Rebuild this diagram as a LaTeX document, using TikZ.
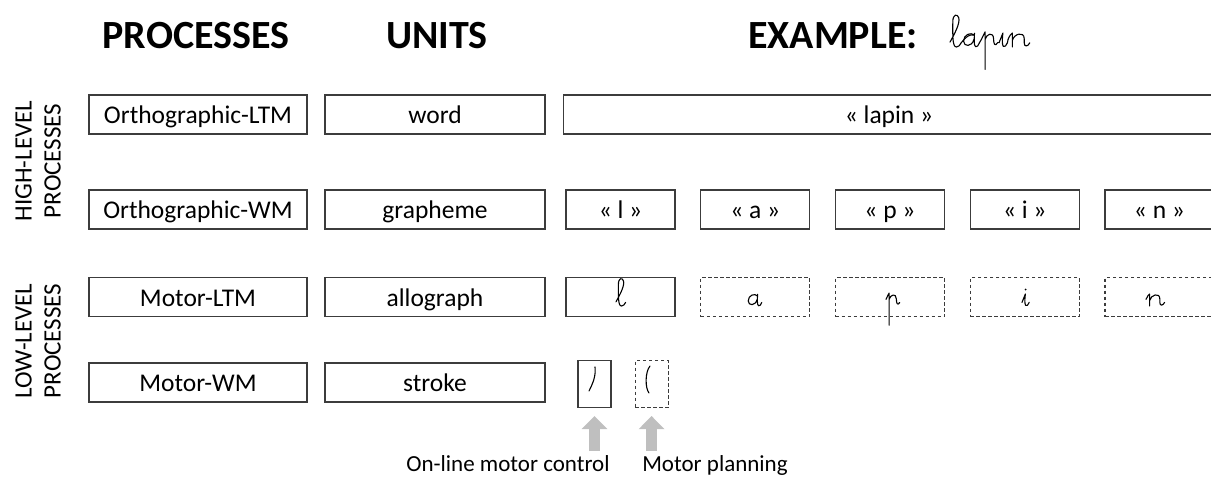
\documentclass[tikz,border=0pt]{standalone}
\usepackage{fontspec}
\setmainfont{Carlito}
\usepackage{tikz}
\usetikzlibrary{arrows.meta, positioning}

\definecolor{boxline}{RGB}{60,60,60}
\definecolor{arrowgray}{RGB}{191,191,191}

\tikzset{
  unitbox/.style={draw=boxline, line width=1.1pt, minimum height=39pt, inner sep=0pt,
    text height=18.5pt, text depth=0.5pt, font=\fontsize{25.5}{30}\selectfont},
  dashbox/.style={unitbox, dash pattern=on 3.5pt off 2.5pt},
  headline/.style={font=\fontsize{40}{48}\selectfont\bfseries, inner sep=0pt},
  sidelbl/.style={rotate=90, align=center, inner sep=0pt, font=\fontsize{25}{29}\selectfont},
  botlbl/.style={inner sep=0pt, anchor=base, font=\fontsize{23}{28}\selectfont},
  cursive/.style={line width=1.1pt, line cap=round, line join=round},
  uparrow/.style={draw=arrowgray, line width=11pt, -{Triangle[width=25pt,length=13pt]}},
  letterat/.style={shift={#1}, x=12pt, y=12pt},
  % handwritten letters, baseline at 0, x-height 1
  ltr l/.pic={\draw[cursive] (0,0.35) .. controls (0.3,0.9) and (0.75,1.7) .. (0.62,2.1)
      .. controls (0.52,2.4) and (0.2,2.35) .. (0.2,1.8) .. controls (0.2,1.0) and (0.15,0) .. (0.45,0)
      .. controls (0.6,0) and (0.72,0.12) .. (0.8,0.3);},
  ltr a/.pic={\draw[cursive] (0.78,0.85) .. controls (0.55,1.08) and (0.02,0.9) .. (0.02,0.42)
      .. controls (0.02,0.0) and (0.62,-0.02) .. (0.76,0.55)
      (0.8,0.98) .. controls (0.78,0.6) and (0.74,0.1) .. (0.88,0.02)
      .. controls (0.98,-0.02) and (1.08,0.1) .. (1.15,0.3);},
  ltr p/.pic={\draw[cursive] (0,0.55) .. controls (0.1,0.8) and (0.2,0.95) .. (0.26,1.08) -- (0.26,-1.6)
      (0.26,0.55) .. controls (0.35,0.95) and (0.85,1.1) .. (0.86,0.6)
      .. controls (0.87,0.2) and (0.95,0.0) .. (1.15,0.3);},
  ltr i/.pic={\draw[cursive] (0,0.3) .. controls (0.12,0.6) and (0.22,0.85) .. (0.28,1.0)
      .. controls (0.24,0.7) and (0.2,0.2) .. (0.3,0.05) .. controls (0.4,-0.05) and (0.52,0.1) .. (0.6,0.3);},
  ltr n/.pic={\draw[cursive] (0,0.55) .. controls (0.1,0.8) and (0.22,0.95) .. (0.3,1.0) -- (0.3,0)
      (0.3,0.45) .. controls (0.4,0.95) and (1.15,1.15) .. (1.15,0.6) -- (1.15,0.3)
      .. controls (1.15,0.0) and (1.4,0.0) .. (1.55,0.3);},
}

\begin{document}
\begin{tikzpicture}[x=1pt, y=-1pt]
\useasboundingbox (0,0) rectangle (1211,477);

% column pitch of the example letters
\def\pitch{134.75}
\def\firstx{620.5}

% ------------------------
% Headings
% ------------------------
\node[headline] (hdproc) at (196,36) {PROCESSES};
\node[headline] (hdunits) at (437,36) {UNITS};
\node[headline, anchor=west] (hdexample) at (748,36) {EXAMPLE:};

% cursive lapin
\begin{scope}[shift={(950,47)}, x=14pt, y=14pt]
  \pic at (0,0) {ltr l};
  \pic at (0.95,0) {ltr a};
  \pic at (2.25,0) {ltr p};
  \pic at (3.5,0) {ltr i};
  \pic at (4.15,0) {ltr n};
  \draw[cursive] (0.8,0.3) .. controls (1.1,0.7) and (1.4,0.95) .. (1.73,0.85);
  \draw[cursive] (2.1,0.3) -- (2.25,0.55);
  \draw[cursive] (3.4,0.3) -- (3.5,0.3);
  \draw[cursive] (4.1,0.3) -- (4.15,0.55);
\end{scope}

% ------------------------
% Side labels
% ------------------------
\node[sidelbl] (hilbl) at (38,161) {HIGH-LEVEL\\PROCESSES};
\node[sidelbl] (lolbl) at (38,341) {LOW-LEVEL\\PROCESSES};

% ------------------------
% Processes and units
% ------------------------
\node[unitbox, minimum width=218pt] (procA) at (198,114.5) {Orthographic-LTM};
\node[unitbox, minimum width=218pt] (procB) at (198,209.5) {Orthographic-WM};
\node[unitbox, minimum width=218pt] (procC) at (198,297) {Motor-LTM};
\node[unitbox, minimum width=218pt] (procD) at (198,382.5) {Motor-WM};

\node[unitbox, minimum width=220pt] (unitA) at (435,114.5) {word};
\node[unitbox, minimum width=220pt] (unitB) at (435,209.5) {grapheme};
\node[unitbox, minimum width=220pt] (unitC) at (435,297) {allograph};
\node[unitbox, minimum width=220pt] (unitD) at (435,382.5) {stroke};

% ------------------------
% Example row by row
% ------------------------
\node[unitbox, minimum width=651pt, anchor=west] (wordbox) at (563,114.5) {« lapin »};

\foreach \g [count=\i from 0] in {l,a,p,i,n} {
  \node[unitbox, minimum width=109pt] (graph\g) at (\firstx+\pitch*\i,209.5) {« \g{} »};
}

\node[unitbox, minimum width=109pt] (allol) at (\firstx,297) {};
\foreach \g [count=\i from 1] in {a,p,i,n} {
  \node[dashbox, minimum width=109pt] (allo\g) at (\firstx+\pitch*\i,297) {};
}

\path[letterat={(616,306)}] (0,0) pic {ltr l};
\path[letterat={(748,306)}] (0,0) pic {ltr a};
\path[letterat={(886,306)}] (0,0) pic {ltr p};
\path[letterat={(1022,306)}] (0,0) pic {ltr i};
\fill (1025.5,289.5) circle (1pt);
\path[letterat={(1146,306)}] (0,0) pic {ltr n};

% strokes
\node[unitbox, minimum width=33pt, minimum height=47pt] (strokeA) at (594.5,384) {};
\node[dashbox, minimum width=33pt, minimum height=47pt, right=23pt of strokeA] (strokeB) {};
\draw[cursive] (595,367) .. controls (596,376) and (593,383) .. (589,391);
\draw[cursive] (650,366) .. controls (645,372) and (645,388) .. (649,393);

% ------------------------
% Arrows and captions
% ------------------------
\coordinate (arrA) at ([yshift=-43pt]strokeA.south);
\coordinate (arrB) at ([yshift=-43pt]strokeB.south);
\draw[uparrow] (arrA) -- ([yshift=-8pt]strokeA.south);
\draw[uparrow] (arrB) -- ([yshift=-8pt]strokeB.south);

\node[botlbl] (lblonline) at (508,471) {On-line motor control};
\node[botlbl] (lblplan) at (715,471) {Motor planning};

\end{tikzpicture}
\end{document}
